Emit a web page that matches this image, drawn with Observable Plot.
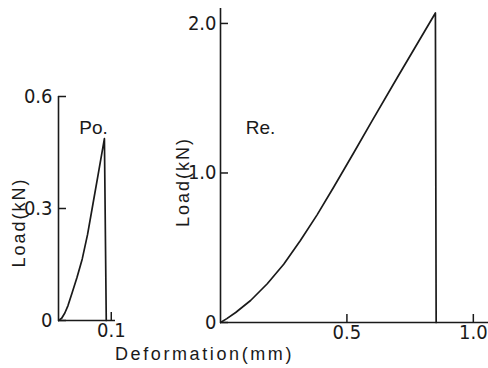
<!DOCTYPE html>
<html>
<head>
<meta charset="utf-8">
<script src="https://cdn.jsdelivr.net/npm/d3@7"></script>
<script src="https://cdn.jsdelivr.net/npm/@observablehq/plot@0.6"></script>
<style>
  html, body { margin: 0; padding: 0; background: #fff; }
  #chart { position: relative; width: 488px; height: 368px; background: #fff; overflow: hidden; }
  #chart svg { position: absolute; top: 0; overflow: visible; }
</style>
</head>
<body>
<div id="chart"></div>
<script>
// ---- Data: Po. specimen (left panel) ----
const poDeformation = [0, 0.006, 0.012, 0.018, 0.026, 0.035, 0.045, 0.055, 0.065, 0.075, 0.087, 0.0905];
const poLoad        = [0, 0.006, 0.020, 0.040, 0.075, 0.115, 0.165, 0.230, 0.310, 0.390, 0.487, 0];

// ---- Data: Re. specimen (right panel) ----
const reDeformation = [0, 0.025, 0.06, 0.119, 0.185, 0.25, 0.316, 0.382, 0.448, 0.527, 0.6, 0.7, 0.85, 0.853];
const reLoad        = [0, 0.026, 0.067, 0.147, 0.259, 0.39, 0.548, 0.72, 0.906, 1.135, 1.35, 1.64, 2.07, 0];

// ---- Ticks and labels ----
const poYTicks = [0, 0.3, 0.6];
const poYTickLabels = ["0", "0.3", "0.6"];
const poXTicks = [0.1];
const poXTickLabels = ["0.1"];
const reYTicks = [0, 1, 2];
const reYTickLabels = ["0", "1.0", "2.0"];
const reXTicks = [0.5, 1.0];
const reXTickLabels = ["0.5", "1.0"];

const poName = "Po.";
const reName = "Re.";
const yLabel = "Load(kN)";
const xLabel = "Deformation(mm)";

const poDomainX = [0, 0.108], poDomainY = [0, 0.6];
const reDomainX = [0, 1.06],  reDomainY = [0, 2.1];

const poData = poDeformation.map((x, i) => ({x, y: poLoad[i]}));
const reData = reDeformation.map((x, i) => ({x, y: reLoad[i]}));

const fmt = (ticks, labels) => d => labels[ticks.findIndex(t => Math.abs(t - d) < 1e-9)];

const tickFont = "'Liberation Sans Narrow', 'DejaVu Sans Condensed', sans-serif";
const textFont = "'Liberation Sans', Arial, sans-serif";
const ink = "#1a1a1a";
const tickLen = 8;

const baseStyle = {background: "transparent", color: ink, fontFamily: tickFont, fontSize: "20px", overflow: "visible"};

function panel({width, marginLeft, marginRight, marginTop, marginBottom, domainX, domainY,
                yTicks, yTickLabels, xTicks, xTickLabels, yPad, data, name, nameDx, nameDy,
                labelDx, labelDy, extra = []}) {
  const frameW = width - marginLeft - marginRight;
  const frameH = 368 - marginTop - marginBottom;
  return Plot.plot({
    width, height: 368, marginLeft, marginRight, marginTop, marginBottom,
    style: baseStyle,
    x: {domain: domainX},
    y: {domain: domainY},
    marks: [
      Plot.ruleX([0], {stroke: ink, strokeWidth: 1.6}),
      Plot.ruleY([0], {stroke: ink, strokeWidth: 1.6}),
      // inward tick marks
      Plot.tickY(yTicks, {y: d => d, insetRight: frameW - tickLen, stroke: ink, strokeWidth: 1.5}),
      Plot.tickX(xTicks, {x: d => d, insetTop: frameH - tickLen, stroke: ink, strokeWidth: 1.5}),
      Plot.axisY({ticks: yTicks, tickFormat: fmt(yTicks, yTickLabels), tickSize: 0, tickPadding: yPad, label: null, fontSize: 20, fontFamily: tickFont, fill: ink}),
      Plot.axisX({ticks: xTicks, tickFormat: fmt(xTicks, xTickLabels), tickSize: 0, tickPadding: 2, label: null, fontSize: 20, fontFamily: tickFont, fill: ink}),
      Plot.line(data, {x: "x", y: "y", stroke: ink, strokeWidth: 1.7}),
      Plot.text([name], {frameAnchor: "top-left", textAnchor: "middle", dx: nameDx, dy: nameDy, fontSize: 19, fontFamily: textFont, fill: ink}),
      Plot.text([yLabel], {frameAnchor: "left", textAnchor: "middle", rotate: -90, dx: labelDx, dy: labelDy, fontSize: 18, fontFamily: textFont, fill: ink}),
      ...extra
    ]
  });
}

// Left panel
const left = panel({
  width: 130, marginLeft: 58, marginRight: 15, marginTop: 96, marginBottom: 48,
  domainX: poDomainX, domainY: poDomainY,
  yTicks: poYTicks, yTickLabels: poYTickLabels, xTicks: poXTicks, xTickLabels: poXTickLabels,
  yPad: 6, data: poData, name: poName, nameDx: 35, nameDy: 24, labelDx: -39.5, labelDy: 14
});
left.style.left = "0px";

// Right panel
const right = panel({
  width: 358, marginLeft: 90, marginRight: 0, marginTop: 8, marginBottom: 46,
  domainX: reDomainX, domainY: reDomainY,
  yTicks: reYTicks, yTickLabels: reYTickLabels, xTicks: reXTicks, xTickLabels: reXTickLabels,
  yPad: 4, data: reData, name: reName, nameDx: 40, nameDy: 112, labelDx: -37.5, labelDy: 16.5,
  extra: [
    Plot.text([xLabel], {frameAnchor: "bottom-left", textAnchor: "middle", dx: -16, dy: 37, fontSize: 18, fontFamily: textFont, fill: ink})
  ]
});
right.style.left = "130px";

// wide-set lettering of the axis titles
for (const svg of [left, right]) {
  svg.querySelectorAll("text").forEach(t => {
    const s = t.textContent;
    if (s === yLabel) t.setAttribute("letter-spacing", "2");
    if (s === xLabel) t.setAttribute("letter-spacing", "2.6");
  });
}

const chart = document.getElementById("chart");
chart.appendChild(left);
chart.appendChild(right);
</script>
</body>
</html>
